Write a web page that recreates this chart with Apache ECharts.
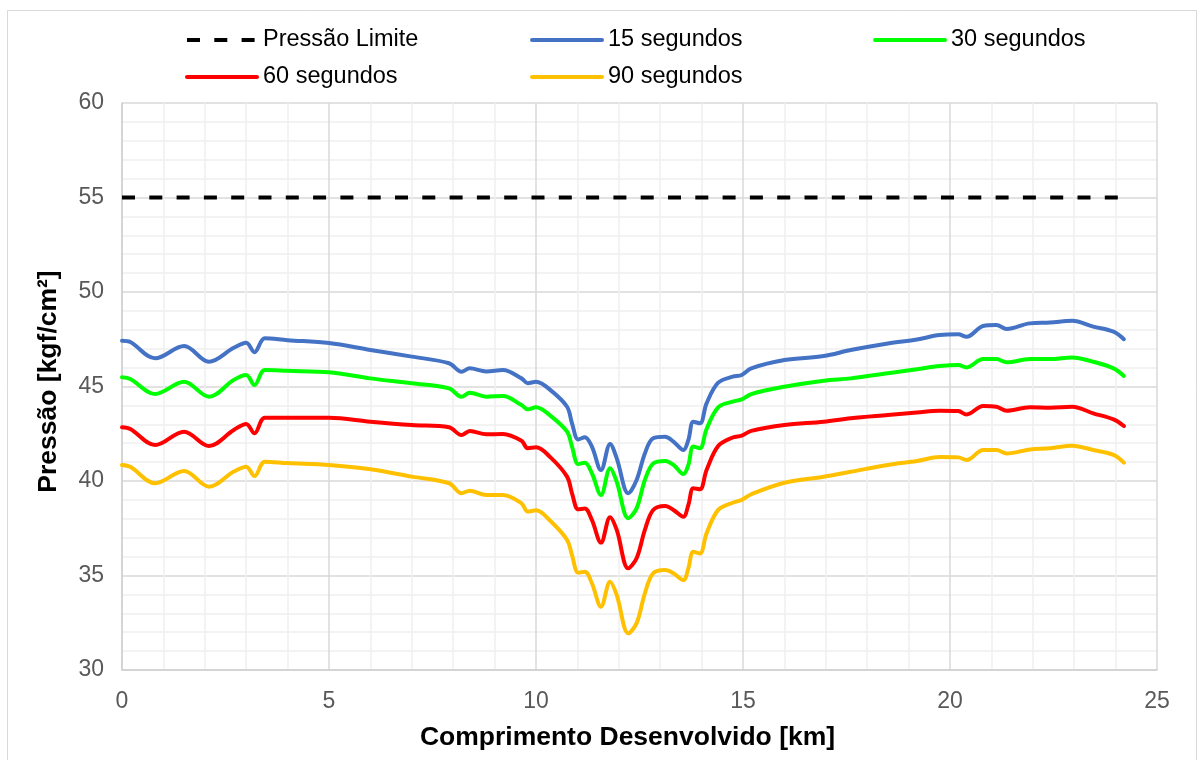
<!DOCTYPE html>
<html>
<head>
<meta charset="utf-8">
<script src="https://cdn.jsdelivr.net/npm/echarts@6/dist/echarts.min.js"></script>
<style>
  html, body { margin: 0; padding: 0; background: #ffffff; }
  #chart { width: 1203px; height: 760px; }
</style>
</head>
<body>
<div id="chart"></div>
<script>
// Distance along the pipeline [km]
const distanceKm = [0, 0.2, 0.8, 1.5, 2.1, 2.7, 3.0, 3.2, 3.45, 4.0, 5.0, 6.0, 7.0, 7.9, 8.2, 8.4, 8.8, 9.2, 9.65, 9.8, 10.0, 10.35, 10.75, 10.87, 11.02, 11.18, 11.35, 11.57, 11.79, 11.95, 12.23, 12.43, 12.63, 12.83, 13.12, 13.32, 13.56, 13.68, 13.8, 13.96, 14.12, 14.4, 14.75, 14.97, 15.2, 16.0, 16.95, 17.6, 18.5, 19.2, 19.75, 20.2, 20.4, 20.8, 21.12, 21.37, 21.93, 22.42, 22.95, 23.46, 23.95, 24.2];

// Pressure profiles [kgf/cm²] for each valve closing time
const p15s = [47.42, 47.35, 46.49, 47.14, 46.31, 47.05, 47.32, 46.81, 47.55, 47.45, 47.3, 46.93, 46.58, 46.23, 45.78, 45.96, 45.8, 45.87, 45.43, 45.17, 45.25, 44.81, 43.93, 43.05, 42.2, 42.31, 41.82, 40.58, 41.96, 41.2, 39.35, 40.05, 41.46, 42.26, 42.34, 42.08, 41.64, 42.17, 43.14, 43.05, 44.11, 45.2, 45.52, 45.61, 45.96, 46.4, 46.61, 46.93, 47.28, 47.49, 47.72, 47.76, 47.63, 48.2, 48.25, 48.04, 48.34, 48.38, 48.48, 48.17, 47.9, 47.5];
const p30s = [45.49, 45.4, 44.6, 45.25, 44.46, 45.35, 45.61, 45.08, 45.87, 45.83, 45.75, 45.43, 45.17, 44.9, 44.46, 44.67, 44.46, 44.5, 44.02, 43.79, 43.9, 43.45, 42.61, 41.82, 40.9, 40.97, 40.41, 39.26, 40.67, 39.96, 38.03, 38.55, 40.05, 40.93, 41.06, 40.85, 40.37, 40.85, 41.82, 41.73, 42.75, 43.9, 44.2, 44.32, 44.6, 44.99, 45.31, 45.43, 45.7, 45.91, 46.08, 46.14, 46.01, 46.45, 46.45, 46.28, 46.45, 46.45, 46.54, 46.31, 45.96, 45.56];
const p60s = [42.84, 42.75, 41.9, 42.61, 41.85, 42.7, 43.02, 42.52, 43.35, 43.35, 43.35, 43.14, 42.96, 42.84, 42.43, 42.65, 42.47, 42.49, 42.13, 41.73, 41.78, 41.25, 40.23, 39.35, 38.5, 38.55, 37.94, 36.74, 38.08, 37.41, 35.38, 35.91, 37.41, 38.47, 38.68, 38.47, 38.11, 38.73, 39.61, 39.56, 40.58, 41.85, 42.3, 42.4, 42.65, 42.96, 43.14, 43.32, 43.49, 43.62, 43.72, 43.7, 43.52, 43.97, 43.93, 43.72, 43.9, 43.88, 43.93, 43.58, 43.26, 42.91];
const p90s = [40.85, 40.75, 39.88, 40.53, 39.7, 40.5, 40.76, 40.26, 41.02, 40.95, 40.85, 40.62, 40.23, 39.88, 39.35, 39.49, 39.26, 39.26, 38.82, 38.38, 38.45, 37.88, 36.88, 36.08, 35.15, 35.2, 34.59, 33.35, 34.67, 33.97, 31.94, 32.47, 34.06, 35.12, 35.29, 35.12, 34.76, 35.38, 36.26, 36.17, 37.23, 38.47, 38.85, 39.0, 39.3, 39.91, 40.23, 40.49, 40.85, 41.06, 41.27, 41.25, 41.11, 41.64, 41.64, 41.46, 41.67, 41.73, 41.87, 41.64, 41.38, 40.97];

// Allowable pressure limit
const limitKm = [0, 24.2];
const limitPressure = [55, 55];

const seriesNames = ['Pressão Limite', '15 segundos', '30 segundos', '60 segundos', '90 segundos'];
const seriesColors = ['#000000', '#4472C4', '#00FF00', '#FF0000', '#FFC000'];

const xTicks = { min: 0, max: 25, step: 5 };
const yTicks = { min: 30, max: 60, step: 5 };

function pairs(xs, ys) { return xs.map((x, i) => [x, ys[i]]); }

const FONT = '"Liberation Sans", Arial, sans-serif';

const chart = echarts.init(document.getElementById('chart'), null, { renderer: 'canvas' });

// One legend block per entry, laid out in a 3-column grid
const legendSlots = [
  { left: 185, top: 28 }, { left: 530, top: 28 }, { left: 873, top: 28 },
  { left: 185, top: 65 }, { left: 530, top: 65 }
];
const legends = seriesNames.map((name, i) => ({
  data: [name],
  left: legendSlots[i].left,
  top: legendSlots[i].top,
  itemWidth: 70,
  itemHeight: 14,
  itemGap: 0,
  padding: 0,
  selectedMode: false,
  itemStyle: { opacity: 0 },
  lineStyle: { width: 4 },
  textStyle: { fontFamily: FONT, fontSize: 23.5, color: '#000000', padding: [0, 0, 0, 1] }
}));

const curves = [p15s, p30s, p60s, p90s];

chart.setOption({
  animation: false,
  backgroundColor: '#ffffff',
  graphic: [{
    type: 'rect',
    shape: { x: 7.5, y: 10.5, width: 1189, height: 760 },
    style: { fill: 'none', stroke: '#d9d9d9', lineWidth: 1 },
    silent: true
  }],
  legend: legends,
  grid: { left: 122, right: 46, top: 103, bottom: 90, containLabel: false },
  xAxis: {
    type: 'value',
    min: xTicks.min, max: xTicks.max, interval: xTicks.step,
    name: 'Comprimento Desenvolvido [km]',
    nameLocation: 'middle',
    nameGap: 54,
    nameTextStyle: { fontFamily: FONT, fontSize: 26.5, fontWeight: 'bold', color: '#000000', padding: [0, 24, 0, 0] },
    axisLine: { show: true, lineStyle: { color: '#d0d0d0', width: 1.5 } },
    axisTick: { show: false },
    axisLabel: { fontFamily: FONT, fontSize: 23, color: '#595959', margin: 20 },
    splitLine: { show: true, lineStyle: { color: '#d9d9d9', width: 1.5 } },
    minorTick: { show: false, splitNumber: 5 },
    minorSplitLine: { show: true, lineStyle: { color: '#efefef', width: 1.5 } }
  },
  yAxis: {
    type: 'value',
    min: yTicks.min, max: yTicks.max, interval: yTicks.step,
    name: 'Pressão [kgf/cm²]',
    nameLocation: 'middle',
    nameGap: 60,
    nameTextStyle: { fontFamily: FONT, fontSize: 26.5, fontWeight: 'bold', color: '#000000', padding: [0, 0, 0, 10] },
    axisLine: { show: true, lineStyle: { color: '#d0d0d0', width: 1.5 } },
    axisTick: { show: false },
    axisLabel: { fontFamily: FONT, fontSize: 23, color: '#595959', margin: 18 },
    splitLine: { show: true, lineStyle: { color: '#d9d9d9', width: 1.5 } },
    minorTick: { show: false, splitNumber: 5 },
    minorSplitLine: { show: true, lineStyle: { color: '#efefef', width: 1.5 } }
  },
  series: [
    {
      name: seriesNames[0],
      type: 'line',
      data: pairs(limitKm, limitPressure),
      symbol: 'none',
      lineStyle: { color: seriesColors[0], width: 4, type: [13, 14.3] },
      itemStyle: { color: seriesColors[0] },
      z: 3
    }
  ].concat(curves.map((vals, i) => ({
    name: seriesNames[i + 1],
    type: 'line',
    data: pairs(distanceKm, vals),
    symbol: 'none',
    smooth: 0.35,
    lineStyle: { color: seriesColors[i + 1], width: 4, cap: 'round', join: 'round' },
    itemStyle: { color: seriesColors[i + 1] },
    z: 4
  })))
});
</script>
</body>
</html>
